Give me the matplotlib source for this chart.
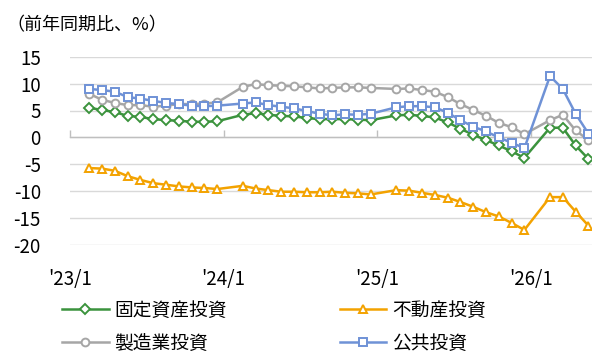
import matplotlib
matplotlib.use("Agg")
import matplotlib.pyplot as plt
from matplotlib.transforms import blended_transform_factory

plt.rcParams["font.family"] = ["Noto Sans CJK JP", "DejaVu Sans"]
plt.rcParams["axes.unicode_minus"] = False

# Cumulative year-on-year growth, reported monthly (Jan-Feb combined as Feb)
months = [
    "2023-02", "2023-03", "2023-04", "2023-05", "2023-06", "2023-07",
    "2023-08", "2023-09", "2023-10", "2023-11", "2023-12",
    "2024-02", "2024-03", "2024-04", "2024-05", "2024-06", "2024-07",
    "2024-08", "2024-09", "2024-10", "2024-11", "2024-12",
    "2025-02", "2025-03", "2025-04", "2025-05", "2025-06", "2025-07",
    "2025-08", "2025-09", "2025-10", "2025-11", "2025-12",
    "2026-02", "2026-03", "2026-04", "2026-05",
]

fixed_asset = [5.5, 5.1, 4.7, 4.0, 3.8, 3.4, 3.2, 3.1, 2.9, 2.9, 3.0,
               4.2, 4.5, 4.2, 4.0, 3.9, 3.6, 3.4, 3.4, 3.4, 3.3, 3.2,
               4.1, 4.2, 4.0, 3.7, 2.8, 1.6, 0.5, -0.5, -1.5, -2.6, -3.8,
               1.8, 1.8, -1.5, -4.0]

real_estate = [-5.7, -5.8, -6.2, -7.2, -7.9, -8.5, -8.8, -9.1, -9.3, -9.4, -9.6,
               -9.0, -9.5, -9.8, -10.1, -10.1, -10.2, -10.2, -10.1, -10.3, -10.4, -10.6,
               -9.8, -9.9, -10.3, -10.7, -11.2, -12.0, -12.9, -13.9, -14.7, -15.9, -17.2,
               -11.1, -11.1, -13.8, -16.4]

manufacturing = [8.1, 7.0, 6.4, 6.0, 6.0, 5.7, 5.9, 6.2, 6.2, 6.3, 6.5,
                 9.4, 9.9, 9.7, 9.6, 9.5, 9.3, 9.1, 9.2, 9.3, 9.3, 9.2,
                 9.0, 9.1, 8.8, 8.5, 7.5, 6.2, 5.1, 4.0, 2.7, 1.9, 0.6,
                 3.2, 4.2, 1.3, -0.5]

public = [9.0, 8.8, 8.5, 7.5, 7.2, 6.8, 6.4, 6.2, 5.9, 5.8, 5.9,
          6.3, 6.5, 6.0, 5.7, 5.4, 4.9, 4.4, 4.1, 4.3, 4.2, 4.4,
          5.6, 5.8, 5.8, 5.6, 4.6, 3.2, 2.0, 1.1, 0.0, -1.0, -2.0,
          11.4, 9.0, 4.4, 0.7]

year_ticks = ["'23/1", "'24/1", "'25/1", "'26/1"]
y_ticks = [15, 10, 5, 0, -5, -10, -15, -20]

# Category index: one slot per calendar month starting Jan 2023
x = [(int(m[:4]) - 2023) * 12 + int(m[5:]) - 1 for m in months]

W, H = 592, 354
fig = plt.figure(figsize=(W / 100, H / 100), dpi=100)
top_px, bot_px, left_px = 56.7, 245.0, 70.0
ax = fig.add_axes([left_px / W, 1 - bot_px / H, (W - left_px) / W, (bot_px - top_px) / H])

slot = 12.8  # px per month
ax.set_xlim(-0.5, -0.5 + (W - left_px) / slot)
ax.set_ylim(-20, 15)

series = [
    ("固定資産投資", fixed_asset, "#3b933d", "D", 4.6),
    ("不動産投資", real_estate, "#f3a200", "^", 6.0),
    ("製造業投資", manufacturing, "#a6a6a6", "o", 5.6),
    ("公共投資", public, "#6f92d6", "s", 6.0),
]
handles = {}
for name, vals, col, mk, ms in series:
    ln, = ax.plot(x, vals, color=col, lw=1.8, marker=mk, ms=ms,
                  mfc="white", mec=col, mew=1.4, clip_on=False, zorder=3)
    handles[name] = ln

# grid & axes
ax.set_yticks(y_ticks)
ax.yaxis.grid(True, color="#d9d9d9", lw=1.0)
ax.set_axisbelow(True)
for s in ["top", "right", "left"]:
    ax.spines[s].set_visible(False)
ax.spines["bottom"].set_position(("data", 0))
ax.spines["bottom"].set_color("#bfbfbf")
ax.spines["bottom"].set_linewidth(1.0)
ax.spines["bottom"].set_zorder(2)

tick_pos = [-0.5, 11.5, 23.5, 35.5]
ax.set_xticks(tick_pos)
ax.set_xticklabels([])
ax.tick_params(axis="x", direction="in", length=5, width=1.0, color="#bfbfbf")
ax.tick_params(axis="y", length=0, pad=21, labelsize=13.5, labelcolor="#000000")
for lab in ax.get_yticklabels():
    lab.set_horizontalalignment("right")

tr = blended_transform_factory(ax.transData, ax.transAxes)
lab_y = (bot_px - 279) / (bot_px - top_px)
for p, t in zip(tick_pos, year_ticks):
    ax.text(p, lab_y, t, transform=tr, ha="center", va="center", fontsize=13.5)

fig.text(6 / W, 1 - 25 / H, "（前年同期比、%）", ha="left", va="center", fontsize=13)

order = ["固定資産投資", "製造業投資", "不動産投資", "公共投資"]
fig.legend([handles[n] for n in order], order, ncol=2, loc="upper left",
           bbox_to_anchor=(62 / W, 1 - 300 / H), frameon=False, fontsize=13.5,
           handlelength=2.5, handletextpad=0.3, columnspacing=6.0,
           labelspacing=0.62, borderpad=0, borderaxespad=0, numpoints=1)

fig.savefig("out.png", dpi=100)
